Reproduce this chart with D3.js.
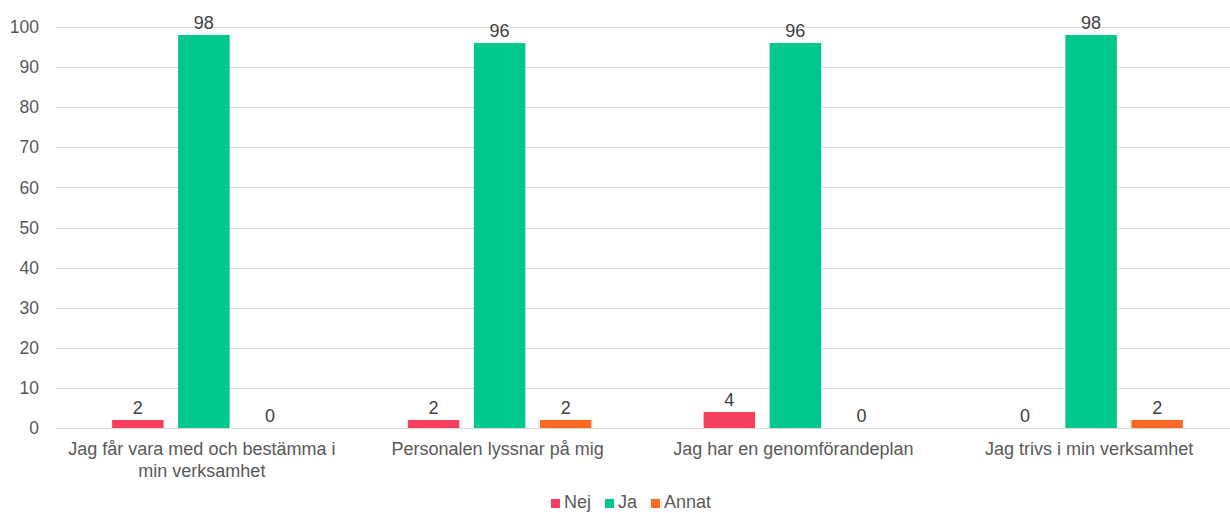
<!DOCTYPE html>
<html>
<head>
<meta charset="utf-8">
<script src="https://cdn.jsdelivr.net/npm/d3@7"></script>
<style>
  html, body { margin: 0; padding: 0; background: #fff; }
  svg { display: block; font-family: "Liberation Sans", Arial, sans-serif; }
</style>
</head>
<body>
<svg id="chart" width="1230" height="513"></svg>
<script>
// Survey answers, percent per statement
const categories = [
  ["Jag får vara med och bestämma i", "min verksamhet"],
  ["Personalen lyssnar på mig"],
  ["Jag har en genomförandeplan"],
  ["Jag trivs i min verksamhet"]
];
const seriesNames = ["Nej", "Ja", "Annat"];
const nej = [2, 2, 4, 0];
const ja = [98, 96, 96, 98];
const annat = [0, 2, 0, 2];
const yTicks = [0, 10, 20, 30, 40, 50, 60, 70, 80, 90, 100];
const colors = ["#F43F5E", "#00C78C", "#FF6A22"];

const seriesValues = [nej, ja, annat];
const svg = d3.select("#chart");

// the plot runs a little past the right edge of the canvas
const margin = { left: 56, right: -9, top: 27, bottom: 85 };
const W = 1230, H = 513;
const FS = 18;

const x0 = d3.scaleBand()
  .domain(d3.range(categories.length))
  .range([margin.left, W - margin.right])
  .padding(0);

const x1 = d3.scaleBand()
  .domain(seriesNames)
  .range([0, x0.bandwidth()])
  .paddingInner(0.22)
  .paddingOuter(0.85);

const y = d3.scaleLinear()
  .domain([0, 100])
  .range([H - margin.bottom, margin.top]);

// grid lines
svg.append("g")
  .selectAll("line")
  .data(yTicks)
  .join("line")
  .attr("x1", margin.left)
  .attr("x2", W - margin.right)
  .attr("y1", d => Math.round(y(d)) + 0.5)
  .attr("y2", d => Math.round(y(d)) + 0.5)
  .attr("stroke", "#D9D9D9")
  .attr("stroke-width", 1);

// y axis labels
const yAxis = d3.axisLeft(y).tickValues(yTicks).tickSize(0).tickPadding(0);
const yg = svg.append("g")
  .attr("transform", `translate(${margin.left - 17},0)`)
  .call(yAxis);
yg.select(".domain").remove();
yg.selectAll("text")
  .attr("fill", "#595959")
  .attr("font-size", 17.5)
  .attr("font-family", "Liberation Sans, Arial, sans-serif");

// bars
const groups = svg.append("g")
  .selectAll("g")
  .data(categories.map((c, i) => i))
  .join("g")
  .attr("transform", i => `translate(${x0(i)},0)`);

groups.selectAll("rect")
  .data(i => seriesNames.map((s, k) => ({ s, k, v: seriesValues[k][i] })))
  .join("rect")
  .attr("x", d => x1(d.s))
  .attr("width", x1.bandwidth())
  .attr("y", d => y(d.v))
  .attr("height", d => y(0) - y(d.v))
  .attr("fill", d => colors[d.k]);

groups.selectAll("text.val")
  .data(i => seriesNames.map((s, k) => ({ s, k, v: seriesValues[k][i] })))
  .join("text")
  .attr("class", "val")
  .attr("x", d => x1(d.s) + x1.bandwidth() / 2)
  .attr("y", d => y(d.v) - 6)
  .attr("text-anchor", "middle")
  .attr("font-size", FS)
  .attr("fill", "#404040")
  .text(d => d.v);

// category labels
const xg = svg.append("g");
categories.forEach((lines, i) => {
  const cx = x0(i) + x0.bandwidth() / 2 - 2;
  const t = xg.append("text")
    .attr("x", cx)
    .attr("y", y(0) + 27)
    .attr("text-anchor", "middle")
    .attr("font-size", FS)
    .attr("fill", "#595959");
  lines.forEach((ln, j) => {
    t.append("tspan")
      .attr("x", cx)
      .attr("dy", j === 0 ? 0 : 22)
      .text(ln);
  });
});

// legend
const legendX = [551, 605, 651];
const legend = svg.append("g");
seriesNames.forEach((s, k) => {
  legend.append("rect")
    .attr("x", legendX[k])
    .attr("y", 499)
    .attr("width", 9)
    .attr("height", 9)
    .attr("fill", colors[k]);
  legend.append("text")
    .attr("x", legendX[k] + 13)
    .attr("y", 508)
    .attr("font-size", FS)
    .attr("fill", "#595959")
    .text(s);
});
</script>
</body>
</html>
